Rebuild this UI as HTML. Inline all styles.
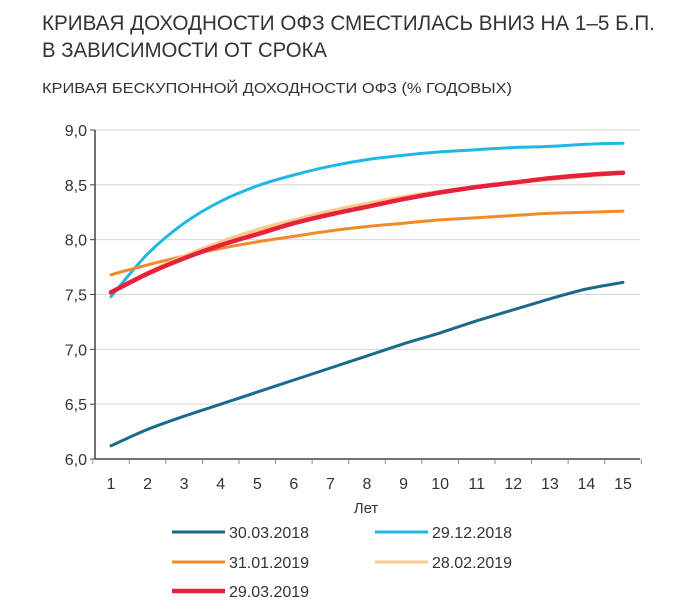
<!DOCTYPE html>
<html><head><meta charset="utf-8"><style>
body{margin:0;background:#fff;width:689px;height:608px;overflow:hidden;font-family:"Liberation Sans Narrow","Liberation Sans",sans-serif;}
</style></head><body>
<svg id="s" width="689" height="608" xmlns="http://www.w3.org/2000/svg" font-family="Liberation Sans Narrow, Liberation Sans, sans-serif">
<text x="42" y="30" font-size="21" fill="#333" textLength="613" lengthAdjust="spacingAndGlyphs">КРИВАЯ ДОХОДНОСТИ ОФЗ СМЕСТИЛАСЬ ВНИЗ НА 1–5 Б.П.</text>
<text x="42" y="57" font-size="21" fill="#333" textLength="285" lengthAdjust="spacingAndGlyphs">В ЗАВИСИМОСТИ ОТ СРОКА</text>
<text x="42" y="93" font-size="15" fill="#333" textLength="470" lengthAdjust="spacingAndGlyphs">КРИВАЯ БЕСКУПОННОЙ ДОХОДНОСТИ ОФЗ (% ГОДОВЫХ)</text>
<g id="grid"></g>
<g id="series" fill="none" stroke-linejoin="round" stroke-linecap="round"></g>
<text x="366" y="513" font-size="15" fill="#333" text-anchor="middle">Лет</text>
<g font-size="16" fill="#333">
<line x1="172" y1="532" x2="225" y2="532" stroke="#1a6a8e" stroke-width="3"/><text x="229" y="538">30.03.2018</text>
<line x1="375" y1="532" x2="428" y2="532" stroke="#1fb8e6" stroke-width="3"/><text x="432" y="538">29.12.2018</text>
<line x1="172" y1="562" x2="225" y2="562" stroke="#f08a2a" stroke-width="3"/><text x="229" y="568">31.01.2019</text>
<line x1="375" y1="562" x2="428" y2="562" stroke="#fbc98a" stroke-width="3"/><text x="432" y="568">28.02.2019</text>
<line x1="172" y1="591" x2="225" y2="591" stroke="#e8213a" stroke-width="4.5"/><text x="229" y="597">29.03.2019</text>
</g>
</svg>
<script>
var NS="http://www.w3.org/2000/svg";
function el(t,a,p){var e=document.createElementNS(NS,t);for(var k in a)e.setAttribute(k,a[k]);p.appendChild(e);return e;}
function Y(v){return 459-(v-6)*109.67;}
function X(i){return 111+(i-1)*36.57;}
var g=document.getElementById('grid');
for(var k=0;k<=6;k++){var v=6+k*0.5,y=Y(v);
 if(k>0)el('line',{x1:95,y1:y,x2:640,y2:y,stroke:'#d8d8d8','stroke-width':1},g);
 el('line',{x1:90,y1:y,x2:95,y2:y,stroke:'#444','stroke-width':1},g);
 var t=el('text',{x:87,y:y+6,'font-size':16,fill:'#333','text-anchor':'end'},g);t.textContent=v.toFixed(1).replace('.',',');}
el('line',{x1:95,y1:Y(9),x2:95,y2:459,stroke:'#444','stroke-width':1.5},g);
el('line',{x1:95,y1:459,x2:640,y2:459,stroke:'#444','stroke-width':1.5},g);
for(var i=0;i<=15;i++){var x=X(i)+18.3;el('line',{x1:x,y1:459,x2:x,y2:464,stroke:'#888','stroke-width':1},g);}
for(var i=1;i<=15;i++){var t=el('text',{x:X(i),y:489,'font-size':16,fill:'#333','text-anchor':'middle'},g);t.textContent=i;}
var S=[
['#1a6a8e',3,[6.12,6.27,6.39,6.50,6.61,6.72,6.83,6.94,7.05,7.15,7.26,7.36,7.46,7.55,7.61]],
['#1fb8e6',3,[7.48,7.87,8.15,8.35,8.49,8.59,8.67,8.73,8.77,8.80,8.82,8.84,8.85,8.87,8.88]],
['#f08a2a',3,[7.68,7.77,7.85,7.92,7.98,8.03,8.08,8.12,8.15,8.18,8.20,8.22,8.24,8.25,8.26]],
['#fbc98a',3.5,[7.52,7.70,7.85,7.98,8.09,8.18,8.26,8.33,8.39,8.44,8.48,8.52,8.55,8.58,8.61]],
['#e8213a',4.5,[7.52,7.69,7.83,7.95,8.05,8.15,8.23,8.30,8.37,8.43,8.48,8.52,8.56,8.59,8.61]]];
var sg=document.getElementById('series');
S.forEach(function(s){
 var P=s[2].map(function(v,i){return [X(i+1),Y(v)];});
 var d='M'+P[0][0].toFixed(1)+','+P[0][1].toFixed(1);
 for(var i=0;i<P.length-1;i++){
  var p0=P[Math.max(i-1,0)],p1=P[i],p2=P[i+1],p3=P[Math.min(i+2,P.length-1)];
  var c1=[p1[0]+(p2[0]-p0[0])/6,p1[1]+(p2[1]-p0[1])/6],c2=[p2[0]-(p3[0]-p1[0])/6,p2[1]-(p3[1]-p1[1])/6];
  d+=' C'+c1[0].toFixed(1)+','+c1[1].toFixed(1)+' '+c2[0].toFixed(1)+','+c2[1].toFixed(1)+' '+p2[0].toFixed(1)+','+p2[1].toFixed(1);
 }
 el('path',{d:d,stroke:s[0],'stroke-width':s[1]},sg);});
</script>
</body></html>
